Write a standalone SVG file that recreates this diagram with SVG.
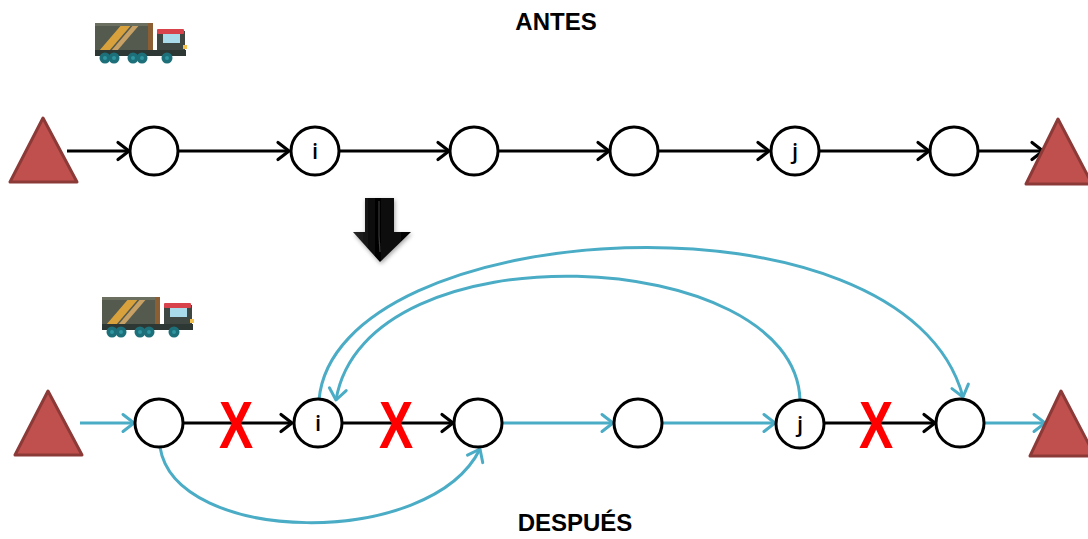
<svg xmlns="http://www.w3.org/2000/svg" width="1088" height="539" viewBox="0 0 1088 539">
  <style>
    .node { fill: #ffffff; stroke: #000000; stroke-width: 3; }
    .lbl { font-family: "Open Sans", "Liberation Sans", Arial, sans-serif; font-size: 22px; font-weight: 600; fill: #000; text-anchor: middle; }
    .title { font-family: "Liberation Sans", Arial, sans-serif; font-size: 24px; font-weight: bold; fill: #000; text-anchor: middle; }
    .depot { fill: #c0504d; stroke: #8c3a38; stroke-width: 3; stroke-linejoin: round; }
    .blk { fill: none; stroke: #000000; stroke-width: 3; marker-end: url(#headBlack); }
    .blu { fill: none; stroke: #4bacc6; stroke-width: 3; marker-end: url(#headBlue); }
    .cross { font-family: "Liberation Sans", Arial, sans-serif; font-size: 54px; font-weight: bold; fill: #ff0000; text-anchor: middle; }
  </style>
  <defs>
    <marker id="headBlack" markerUnits="userSpaceOnUse" markerWidth="24" markerHeight="24" viewBox="-14 -12 16 24" refX="0" refY="0" orient="auto">
      <path d="M-11,-8.5 L0,0 L-11,8.5" fill="none" stroke="#000" stroke-width="3.2" stroke-linecap="round" stroke-linejoin="round"/>
    </marker>
    <marker id="headBlue" markerUnits="userSpaceOnUse" markerWidth="24" markerHeight="24" viewBox="-14 -12 16 24" refX="0" refY="0" orient="auto">
      <path d="M-11,-8.5 L0,0 L-11,8.5" fill="none" stroke="#4bacc6" stroke-width="3" stroke-linecap="round" stroke-linejoin="round"/>
    </marker>
    <linearGradient id="arrowFill" x1="0" y1="0" x2="1" y2="0">
      <stop offset="0" stop-color="#2a2a2a"/>
      <stop offset="0.45" stop-color="#000"/>
      <stop offset="0.55" stop-color="#111"/>
      <stop offset="1" stop-color="#000"/>
    </linearGradient>
    <filter id="shadow" x="-30%" y="-30%" width="160%" height="160%">
      <feDropShadow dx="1" dy="2" stdDeviation="2" flood-color="#000" flood-opacity="0.35"/>
    </filter>
    <!-- delivery truck, origin at the top-left of the cargo box -->
    <g id="truck">
      <rect x="0" y="0" width="57" height="28" fill="#545a4d"/>
      <polygon points="4,28 28,0 38,0 14,28" fill="#d9a13b"/>
      <polygon points="16,28 40,0 46,0 22,28" fill="#c6a064"/>
      <rect x="0" y="0" width="57" height="3" fill="#6b6f60"/>
      <rect x="53" y="0" width="5" height="28" fill="#8b5e34"/>
      <rect x="62" y="8" width="28" height="24" fill="#3f4742"/>
      <rect x="62" y="6" width="27" height="5" rx="1" fill="#d8434b"/>
      <rect x="68" y="11" width="17" height="9" fill="#a9dbea"/>
      <rect x="88" y="22" width="4" height="4" fill="#f2c14e"/>
      <rect x="0" y="27" width="91" height="6" fill="#2d3835"/>
      <g fill="#1d7079">
        <circle cx="10" cy="35" r="5.5"/>
        <circle cx="19" cy="35" r="5.5"/>
        <circle cx="38" cy="35" r="5.5"/>
        <circle cx="47" cy="35" r="5.5"/>
        <circle cx="72" cy="35" r="5.5"/>
      </g>
      <g fill="#2f95a0">
        <circle cx="10" cy="35" r="2"/>
        <circle cx="19" cy="35" r="2"/>
        <circle cx="38" cy="35" r="2"/>
        <circle cx="47" cy="35" r="2"/>
        <circle cx="72" cy="35" r="2"/>
      </g>
    </g>
  </defs>

  <rect width="1088" height="539" fill="#ffffff"/>

  <!-- headings -->
  <text class="title" x="556" y="30">ANTES</text>
  <text class="title" x="575" y="531">DESPUÉS</text>

  <!-- trucks -->
  <use href="#truck" transform="translate(95,23)"/>
  <use href="#truck" transform="translate(102,297)"/>

  <!-- transition arrow -->
  <g id="down-arrow" filter="url(#shadow)">
    <polygon points="365,198 394,198 394,232 411,232 380,262 353,232 365,232" fill="url(#arrowFill)"/>
    <polyline points="379,201 379,236 380,252" fill="none" stroke="#555" stroke-width="1.2" opacity="0.7"/>
  </g>

  <!-- connectors -->
  <g id="connectors">
    <!-- original route -->
    <line class="blk" x1="67" y1="151" x2="129" y2="151"/>
    <line class="blk" x1="178" y1="151" x2="289" y2="151"/>
    <line class="blk" x1="340" y1="151" x2="449" y2="151"/>
    <line class="blk" x1="498" y1="151" x2="609" y2="151"/>
    <line class="blk" x1="658" y1="151" x2="769" y2="151"/>
    <line class="blk" x1="820" y1="151" x2="929" y2="151"/>
    <line class="blk" x1="978" y1="151" x2="1043" y2="151"/>

    <!-- removed edges -->
    <line class="blk" x1="183" y1="423" x2="292" y2="423"/>
    <line class="blk" x1="342" y1="423" x2="453" y2="423"/>
    <line class="blk" x1="825" y1="423" x2="935" y2="423"/>

    <!-- new route -->
    <line class="blu" x1="80" y1="423" x2="134" y2="423"/>
    <line class="blu" x1="503" y1="423" x2="613" y2="423"/>
    <line class="blu" x1="663" y1="423" x2="775" y2="423"/>
    <line class="blu" x1="985" y1="423" x2="1045" y2="423"/>
    <path class="blu" d="M160,447 C175,545 430,550 480,449"/>
    <path class="blu" d="M319,400 C335,215 905,180 963,397"/>
    <path class="blu" d="M800,400 C795,245 365,225 336,400"/>
  </g>

  <!-- depots -->
  <g id="depot-top-start"><polygon class="depot" points="43,118 77,182 10,182"/></g>
  <g id="depot-top-end"><polygon class="depot" points="1058,119 1092,184 1026,184"/></g>
  <g id="depot-bottom-start"><polygon class="depot" points="48,391 82,455 15,455"/></g>
  <g id="depot-bottom-end"><polygon class="depot" points="1061,391 1095,456 1030,456"/></g>

  <!-- customers, original route -->
  <g id="a1"><circle class="node" cx="154" cy="151" r="24"/></g>
  <g id="a2"><circle class="node" cx="315" cy="151" r="24"/><text class="lbl" x="315" y="159">i</text></g>
  <g id="a3"><circle class="node" cx="474" cy="151" r="24"/></g>
  <g id="a4"><circle class="node" cx="634" cy="151" r="24"/></g>
  <g id="a5"><circle class="node" cx="795" cy="151" r="24"/><text class="lbl" x="795" y="159">j</text></g>
  <g id="a6"><circle class="node" cx="954" cy="151" r="24"/></g>

  <!-- customers, improved route -->
  <g id="b1"><circle class="node" cx="159" cy="423" r="24"/></g>
  <g id="b2"><circle class="node" cx="318" cy="423" r="24"/><text class="lbl" x="318" y="431">i</text></g>
  <g id="b3"><circle class="node" cx="478" cy="423" r="24"/></g>
  <g id="b4"><circle class="node" cx="638" cy="423" r="24"/></g>
  <g id="b5"><circle class="node" cx="800" cy="424" r="24"/><text class="lbl" x="800" y="432">j</text></g>
  <g id="b6"><circle class="node" cx="960" cy="423" r="24"/></g>

  <!-- removal marks -->
  <g id="cuts">
    <text class="cross" transform="translate(236,448) scale(0.95,1.25)">X</text>
    <text class="cross" transform="translate(396,448) scale(0.95,1.25)">X</text>
    <text class="cross" transform="translate(876,448) scale(0.95,1.25)">X</text>
  </g>
</svg>
